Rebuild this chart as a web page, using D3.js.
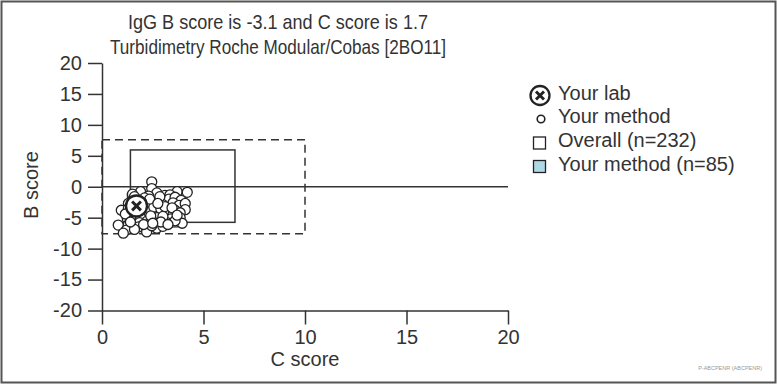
<!DOCTYPE html>
<html><head><meta charset="utf-8">
<script src="https://cdn.jsdelivr.net/npm/d3@7/dist/d3.min.js"></script>
<style>
body{margin:0;background:#fff;}
svg{display:block;}
.ax path,.ax line{stroke:#333;stroke-width:1.5;}
.ax text{font-family:"Liberation Sans",Arial,sans-serif;font-size:20px;fill:#333;}
</style></head>
<body>
<svg id="c" width="777" height="384"></svg>
<script>
const titleLines = ["IgG B score is -3.1 and C score is 1.7", "Turbidimetry Roche Modular/Cobas [2BO11]"];
const xTicks = [0, 5, 10, 15, 20];
const yTicks = [20, 15, 10, 5, 0, -5, -10, -15, -20];
const yourLab = {c: 1.7, b: -3.1};
const overallBox = {c0: 1.4, c1: 6.55, b0: -5.75, b1: 5.95};
const methodBox = {c0: 1.25, c1: 3.75, b0: -6.5, b1: -1.05};
const limitBox = {c0: 0, c1: 10, b0: -7.6, b1: 7.6};
const methodC = [2.45,2.45,1.9,1.5,2.7,3.1,3.7,4.2,3.35,2.3,
 1.6,2.0,2.6,2.95,3.3,3.6,3.9,2.2,3.0,3.5,1.3,2.7,3.8,4.1,
 0.95,1.3,2.0,2.5,3.2,3.6,4.1,1.95,2.3,2.8,3.2,3.5,1.6,2.55,2.9,3.85,
 1.25,1.55,1.9,2.2,2.7,3.0,3.4,3.85,2.45,3.2,3.95,1.85,2.6,1.3,0.8,
 1.8,2.2,2.7,1.2,1.05,2.2,1.6,2.45,3.0,
 2.1,2.85,1.75,3.1,2.4,3.0,1.45,2.05,1.7,3.6,2.35,1.6,
 2.75,3.45,1.15,2.9,3.25,1.95,2.5,3.7,1.4];
const methodB = [0.8,-0.3,-0.8,-1.2,-1.0,-1.4,-0.8,-0.9,-1.3,-1.5,
 -2.0,-2.2,-2.4,-2.1,-2.0,-1.7,-2.2,-2.8,-2.9,-2.6,-2.7,-3.1,-3.0,-2.7,
 -3.8,-3.5,-3.4,-3.8,-3.5,-3.8,-3.7,-4.3,-4.1,-4.4,-4.1,-4.5,-4.6,-3.3,-3.6,-4.2,
 -5.2,-5.4,-5.0,-5.6,-5.0,-5.3,-5.2,-5.0,-5.4,-5.8,-5.9,-5.8,-6.0,-6.1,-6.2,
 -6.5,-6.8,-6.7,-7.0,-7.5,-7.3,-6.9,-6.3,-6.4,
 -1.8,-1.6,-3.0,-3.2,-4.7,-4.8,-4.0,-6.1,-3.8,-5.5,-2.0,-1.6,
 -2.7,-3.4,-4.4,-5.7,-6.1,-2.5,-5.9,-4.6,-5.7];
const legendLabels = ["Your lab", "Your method", "Overall (n=232)", "Your method (n=85)"];
const footer = "P-ABCPENR (ABCPENR)";

const svg = d3.select("#c");
const x = d3.scaleLinear().domain([0, 20]).range([102, 508]);
const y = d3.scaleLinear().domain([-20, 20]).range([310.5, 63]);
const ink = "#333";
const font = "'Liberation Sans',Arial,sans-serif";

// frame
svg.append("rect").attr("x", 1.5).attr("y", 1.5).attr("width", 774).attr("height", 381)
  .attr("fill", "none").attr("stroke", "#555").attr("stroke-width", 2);

// title (condensed)
const tWidths = [300, 336];
svg.append("text").style("font-family", font).style("font-size", "21px").attr("fill", ink)
  .attr("text-anchor", "middle")
  .selectAll("tspan").data(titleLines).join("tspan")
  .attr("x", 278).attr("y", (d, i) => 28.7 + i * 25)
  .attr("textLength", (d, i) => tWidths[i]).attr("lengthAdjust", "spacingAndGlyphs")
  .text(d => d);

// axes
svg.append("g").attr("class", "ax").attr("transform", `translate(0,${y(-20)})`)
  .call(d3.axisBottom(x).tickValues(xTicks).tickSize(14).tickSizeOuter(0).tickPadding(5).tickFormat(d => String(d)));
svg.append("g").attr("class", "ax").attr("transform", `translate(${x(0)},0)`)
  .call(d3.axisLeft(y).tickValues(yTicks).tickSize(14).tickSizeOuter(0).tickPadding(6).tickFormat(d => String(d)));

// zero line
svg.append("line").attr("x1", x(0)).attr("x2", x(20)).attr("y1", y(0)).attr("y2", y(0))
  .attr("stroke", ink).attr("stroke-width", 1.5);

// axis titles
svg.append("text").attr("x", x(10)).attr("y", 366).attr("text-anchor", "middle")
  .style("font-family", font).style("font-size", "20px").attr("fill", ink).text("C score");
svg.append("text").attr("transform", `translate(38,185) rotate(-90)`).attr("text-anchor", "middle")
  .style("font-family", font).style("font-size", "20px").attr("fill", ink).text("B score");

// boxes
svg.append("rect").attr("x", x(methodBox.c0)).attr("y", y(methodBox.b1))
  .attr("width", x(methodBox.c1) - x(methodBox.c0)).attr("height", y(methodBox.b0) - y(methodBox.b1))
  .attr("fill", "#add8e6").attr("stroke", ink).attr("stroke-width", 1.2);
svg.append("rect").attr("x", x(overallBox.c0)).attr("y", y(overallBox.b1))
  .attr("width", x(overallBox.c1) - x(overallBox.c0)).attr("height", y(overallBox.b0) - y(overallBox.b1))
  .attr("fill", "none").attr("stroke", ink).attr("stroke-width", 1.5);
svg.append("rect").attr("x", x(limitBox.c0)).attr("y", y(limitBox.b1))
  .attr("width", x(limitBox.c1) - x(limitBox.c0)).attr("height", y(limitBox.b0) - y(limitBox.b1))
  .attr("fill", "none").attr("stroke", ink).attr("stroke-width", 1.5).attr("stroke-dasharray", "8,5");

// points
const pts = methodC.map((c, i) => ({c, b: methodB[i]}));
svg.append("g").selectAll("circle").data(pts).join("circle")
  .attr("cx", d => x(d.c)).attr("cy", d => y(d.b)).attr("r", 5)
  .attr("fill", "#fff").attr("stroke", "#222").attr("stroke-width", 1.3);

// your lab marker
function labMarker(g, cx, cy, r, sw) {
  g.append("circle").attr("cx", cx).attr("cy", cy).attr("r", r)
    .attr("fill", "#fff").attr("stroke", "#222").attr("stroke-width", sw);
  const k = r * 0.42;
  g.append("path").attr("d", `M${cx - k},${cy - k}L${cx + k},${cy + k}M${cx - k},${cy + k}L${cx + k},${cy - k}`)
    .attr("stroke", "#222").attr("stroke-width", sw + 0.6).attr("fill", "none");
}
labMarker(svg.append("g"), x(yourLab.c), y(yourLab.b), 10.5, 2.4);

// legend
const lg = svg.append("g");
const base = [99.5, 123, 147, 170.5];
labMarker(lg, 540, base[0] - 4, 9.5, 2.3);
lg.append("circle").attr("cx", 541).attr("cy", base[1] - 4).attr("r", 3.8).attr("fill", "#fff").attr("stroke", "#222").attr("stroke-width", 1.6);
lg.append("rect").attr("x", 533.5).attr("y", base[2] - 10).attr("width", 12).attr("height", 12).attr("fill", "#fff").attr("stroke", "#222").attr("stroke-width", 1.3);
lg.append("rect").attr("x", 533.5).attr("y", base[3] - 10).attr("width", 12).attr("height", 12).attr("fill", "#add8e6").attr("stroke", "#222").attr("stroke-width", 1.3);
lg.selectAll("text").data(legendLabels).join("text")
  .attr("x", 558).attr("y", (d, i) => base[i])
  .style("font-family", font).style("font-size", "20px").attr("fill", ink).text(d => d);

// footer
svg.append("text").attr("x", 762).attr("y", 370).attr("text-anchor", "end")
  .style("font-family", font).style("font-size", "5.5px").attr("fill", "#999").text(footer);
</script>
</body></html>
